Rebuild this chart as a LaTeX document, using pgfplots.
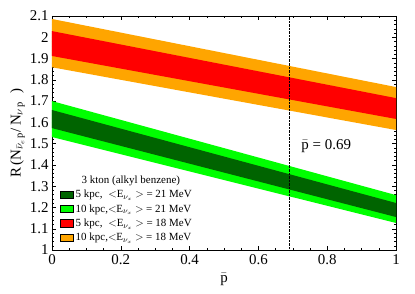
\documentclass[border=0pt]{standalone}
\usepackage{fontspec}
\setmainfont{Liberation Serif}
\usepackage{pgfplots}
\pgfplotsset{compat=1.18}
\definecolor{bandorange}{RGB}{255,165,0}
\definecolor{bandred}{RGB}{255,0,0}
\definecolor{bandlime}{RGB}{0,255,0}
\definecolor{banddark}{RGB}{0,100,0}
\begin{document}
\begin{tikzpicture}
\begin{axis}[
  scale only axis,
  width=344bp, height=234bp,
  xmin=0, xmax=1, ymin=1, ymax=2.1,
  xtick={0,0.2,0.4,0.6,0.8,1},
  ytick={1,1.1,1.2,1.3,1.4,1.5,1.6,1.7,1.8,1.9,2,2.1},
  minor x tick num=3,
  minor y tick num=4,
  major tick length=4bp, minor tick length=2bp,
  tick style={black, line width=0.4pt},
  axis line style={line width=0.6pt},
  /pgf/number format/assume math mode=true,
  ticklabel style={font=\fontsize{15}{17}\selectfont},
  xticklabel style={yshift=-1bp},
  xlabel={$\bar{\mathrm{p}}$},
  xlabel style={font=\fontsize{15}{17}\selectfont, yshift=-2bp},
  ylabel={R\,(N$_{\bar{\nu}_e\,\mathrm{p}}$/\,N$_{\nu\,\mathrm{p}}$\;\;)},
  ylabel style={font=\fontsize{15}{17}\selectfont, yshift=-2bp},
  legend style={at={(0.015,0.335)}, anchor=north west, draw=none, fill=none,
    font=\fontsize{11}{12.5}\selectfont, row sep=1.3bp,
    legend cell align=left},
  legend image code/.code={\fill[#1] (0bp,-3.5bp) rectangle (13bp,4bp);},
]
\addplot[fill=bandorange, draw=none, forget plot] coordinates {(0,2.086) (1,1.766) (1,1.564) (0,1.859)} -- cycle;
\addplot[fill=bandred, draw=none, forget plot] coordinates {(0,2.029) (1,1.714) (1,1.616) (0,1.912)} -- cycle;
\addplot[fill=bandlime, draw=none, forget plot] coordinates {(0,1.700) (1,1.258) (1,1.127) (0,1.531)} -- cycle;
\addplot[fill=banddark, draw=none, forget plot] coordinates {(0,1.658) (1,1.221) (1,1.155) (0,1.573)} -- cycle;
\addplot[densely dotted, line width=0.4pt, forget plot] coordinates {(0.69,1) (0.69,2.1)};
\node[anchor=west, font=\fontsize{15}{17}\selectfont] at (axis cs:0.715,1.49) {$\bar{\mathrm{p}}$ = 0.69};
\addlegendimage{empty legend}
\addlegendentry{\hspace*{6bp}3 kton (alkyl benzene)\rule[-5bp]{0pt}{5bp}}
\addlegendimage{fill=banddark}
\addlegendentry{5 kpc,\; $<$E$_{\nu_x}$ $>$ = 21 MeV}
\addlegendimage{fill=bandlime}
\addlegendentry{10 kpc,$<$E$_{\nu_x}$ $>$ = 21 MeV}
\addlegendimage{fill=bandred}
\addlegendentry{5 kpc,\; $<$E$_{\nu_x}$ $>$ = 18 MeV}
\addlegendimage{fill=bandorange}
\addlegendentry{10 kpc,$<$E$_{\nu_x}$ $>$ = 18 MeV}
\end{axis}
\pgfresetboundingbox
\path (current axis.south west) ++(-52bp,-44bp) coordinate (bbA);
\path (current axis.north east) ++(19bp,16bp) coordinate (bbB);
\useasboundingbox (bbA) rectangle (bbB);
\end{tikzpicture}
\end{document}
